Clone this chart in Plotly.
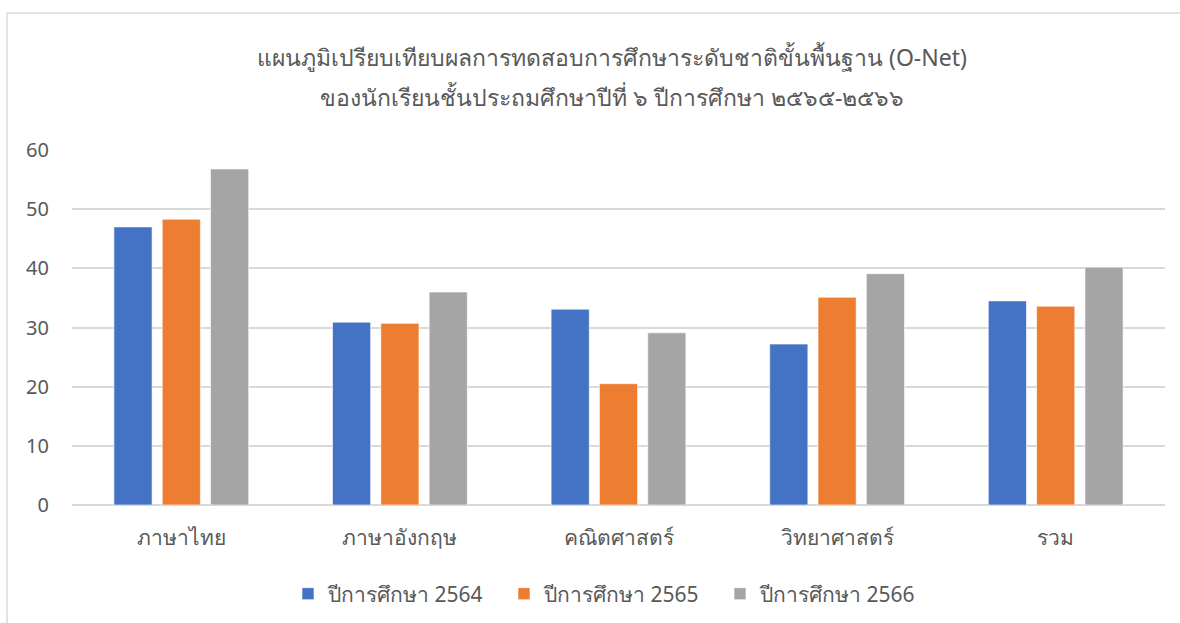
import plotly.graph_objects as go

categories = ["ภาษาไทย", "ภาษาอังกฤษ", "คณิตศาสตร์", "วิทยาศาสตร์", "รวม"]
series_names = ["ปีการศึกษา 2564", "ปีการศึกษา 2565", "ปีการศึกษา 2566"]
values_2564 = [47.0, 30.9, 33.1, 27.2, 34.5]
values_2565 = [48.3, 30.7, 20.5, 35.1, 33.6]
values_2566 = [56.8, 36.0, 29.1, 39.1, 40.2]
colors = ["#4472C4", "#ED7D31", "#A5A5A5"]
y_ticks = [0, 10, 20, 30, 40, 50, 60]

title_line1 = "แผนภูมิเปรียบเทียบผลการทดสอบการศึกษาระดับชาติขั้นพื้นฐาน (O-Net)"
title_line2 = "ของนักเรียนชั้นประถมศึกษาปีที่ ๖ ปีการศึกษา ๒๕๖๕-๒๕๖๖"

FONT = "Noto Sans, DejaVu Sans, sans-serif"
TXT = "#595959"

fig = go.Figure()
for name, vals, col in zip(series_names, [values_2564, values_2565, values_2566], colors):
    fig.add_trace(go.Bar(
        x=categories, y=vals, name=name,
        marker=dict(color=col, line=dict(color="rgba(255,255,255,0.6)", width=1)),
    ))

W, H = 1180, 623
l, r, t, b = 72, 15, 150, 118
pw = W - l - r
ph = H - t - b


def py(pix):
    return (ph - (pix - t)) / ph


def px(pix):
    return (pix - l) / pw


fig.update_layout(
    width=W, height=H,
    margin=dict(l=l, r=r, t=t, b=b, autoexpand=False),
    paper_bgcolor="white", plot_bgcolor="white",
    barmode="group", bargap=0.337, bargroupgap=0.21,
    font=dict(family=FONT, color=TXT, size=20),
    annotations=[
        dict(text=title_line1, x=px(612), y=py(57), xref="paper", yref="paper",
             xanchor="center", yanchor="middle", showarrow=False,
             font=dict(size=23, color=TXT, family=FONT)),
        dict(text=title_line2, x=px(612), y=py(97), xref="paper", yref="paper",
             xanchor="center", yanchor="middle", showarrow=False,
             font=dict(size=23, color=TXT, family=FONT)),
    ],
    legend=dict(orientation="h", x=px(288), xanchor="left", y=py(594),
                yanchor="middle", font=dict(size=21, color=TXT), traceorder="normal",
                itemwidth=30, entrywidth=171, entrywidthmode="pixels"),
    xaxis=dict(showgrid=False, showline=False, ticks="", ticklabelstandoff=18,
               automargin=False, tickfont=dict(size=21, color=TXT)),
    yaxis=dict(range=[0, 60], tickvals=y_ticks, showgrid=True, gridcolor="#D9D9D9",
               gridwidth=1.5, zeroline=True, zerolinecolor="#D9D9D9", zerolinewidth=1.5,
               showline=False, ticks="", ticklabelstandoff=22, automargin=False,
               tickfont=dict(size=20, color=TXT)),
    shapes=[
        dict(type="line", xref="paper", yref="paper",
             x0=px(7), x1=px(W + 5), y0=py(13), y1=py(13),
             line=dict(color="#D9D9D9", width=1.5), layer="below"),
        dict(type="line", xref="paper", yref="paper",
             x0=px(7), x1=px(7), y0=py(13), y1=py(H + 5),
             line=dict(color="#D9D9D9", width=1.5), layer="below"),
    ],
)

fig.write_html("out.html", config={"displayModeBar": False},
               post_script="document.body.style.margin='0';")
